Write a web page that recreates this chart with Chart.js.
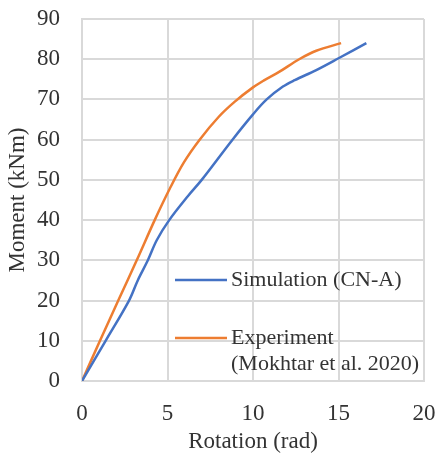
<!DOCTYPE html>
<html>
<head>
<meta charset="utf-8">
<script src="https://cdn.jsdelivr.net/npm/chart.js@4"></script>
<style>
  html, body { margin: 0; padding: 0; background: #fff; }
  #wrap { width: 438px; height: 453px; }
</style>
</head>
<body>
<div id="wrap"><canvas id="c" width="438" height="453"></canvas></div>
<script>
// Moment–rotation response: numerical model vs. test
const simRotation = [0, 1.38, 2.75, 3.26, 3.85, 4.37, 5.1, 6.2, 7.0, 8.8, 10.0, 10.8, 11.75, 12.44, 13.7, 15.03, 16.63];
const simMoment   = [0, 10, 20, 25, 30, 35, 40, 46, 50, 60, 66.3, 70, 73.2, 74.8, 77.3, 80.3, 84.0];

const expRotation = [0, 1.05, 2.12, 3.2, 4.25, 5.13, 5.95, 6.88, 8.0, 8.92, 10.0, 10.67, 11.55, 12.7, 13.7, 15.15];
const expMoment   = [0, 10, 20, 30, 40, 47.8, 54.3, 60, 65.7, 69.4, 73.0, 74.8, 76.9, 80.0, 82.1, 84.0];

const seriesNames = ['Simulation (CN-A)', ['Experiment', '(Mokhtar et al. 2020)']];
const seriesColors = ['#4472C4', '#ED7D31'];

const xTicks = [0, 5, 10, 15, 20];
const yTicks = [0, 10, 20, 30, 40, 50, 60, 70, 80, 90];

const FONT = '"Liberation Serif", "Times New Roman", serif';
const TEXT = '#333333';
const GRID = '#d9d9d9';

const toPoints = (xs, ys) => xs.map((x, i) => ({ x, y: ys[i] }));

// Legend drawn inside the plot area, without a frame
const innerLegend = {
  id: 'innerLegend',
  afterDatasetsDraw(chart) {
    const { ctx, chartArea } = chart;
    const x0 = chartArea.left + 93;
    const x1 = x0 + 52;
    const rows = [chartArea.top + 261, chartArea.top + 319];
    ctx.save();
    ctx.font = '22px ' + FONT;
    ctx.fillStyle = TEXT;
    ctx.textBaseline = 'middle';
    ctx.textAlign = 'left';
    seriesNames.forEach((name, i) => {
      const y = rows[i];
      ctx.strokeStyle = seriesColors[i];
      ctx.lineWidth = 2.5;
      ctx.beginPath();
      ctx.moveTo(x0, y);
      ctx.lineTo(x1, y);
      ctx.stroke();
      const lines = Array.isArray(name) ? name : [name];
      lines.forEach((t, k) => ctx.fillText(t, x1 + 4, y + k * 26));
    });
    ctx.restore();
  }
};

new Chart(document.getElementById('c'), {
  type: 'scatter',
  data: {
    datasets: [
      {
        label: 'Simulation (CN-A)',
        data: toPoints(simRotation, simMoment),
        showLine: true,
        borderColor: seriesColors[0],
        borderWidth: 2.5,
        pointRadius: 0,
        tension: 0.35,
        fill: false
      },
      {
        label: 'Experiment (Mokhtar et al. 2020)',
        data: toPoints(expRotation, expMoment),
        showLine: true,
        borderColor: seriesColors[1],
        borderWidth: 2.5,
        pointRadius: 0,
        tension: 0.35,
        fill: false
      }
    ]
  },
  options: {
    responsive: false,
    animation: false,
    layout: { padding: { top: 19, right: 14, left: 0, bottom: 0 } },
    plugins: {
      legend: { display: false },
      tooltip: { enabled: false }
    },
    scales: {
      x: {
        type: 'linear',
        min: xTicks[0],
        max: xTicks[xTicks.length - 1],
        afterBuildTicks: s => { s.ticks = xTicks.map(v => ({ value: v })); },
        afterFit: s => { s.height = 72; s.paddingLeft = 0; s.paddingRight = 0; },
        grid: { color: GRID, lineWidth: 2, drawTicks: false },
        border: { color: GRID, width: 2 },
        ticks: { padding: 19, color: TEXT, font: { family: FONT, size: 23 } },
        title: {
          display: true,
          text: 'Rotation (rad)',
          color: TEXT,
          padding: { top: 0, bottom: 0 },
          font: { family: FONT, size: 23, lineHeight: 1.0 }
        }
      },
      y: {
        type: 'linear',
        min: yTicks[0],
        max: yTicks[yTicks.length - 1],
        afterBuildTicks: s => { s.ticks = yTicks.map(v => ({ value: v })); },
        afterFit: s => { s.width = 82; s.paddingTop = 0; s.paddingBottom = 0; },
        grid: { color: GRID, lineWidth: 2, drawTicks: false },
        border: { color: GRID, width: 2 },
        ticks: { padding: 22, color: TEXT, font: { family: FONT, size: 23 } },
        title: {
          display: true,
          text: 'Moment (kNm)',
          color: TEXT,
          padding: { top: 4, bottom: 0 },
          font: { family: FONT, size: 23, lineHeight: 1.2 }
        }
      }
    }
  },
  plugins: [innerLegend]
});
</script>
</body>
</html>
